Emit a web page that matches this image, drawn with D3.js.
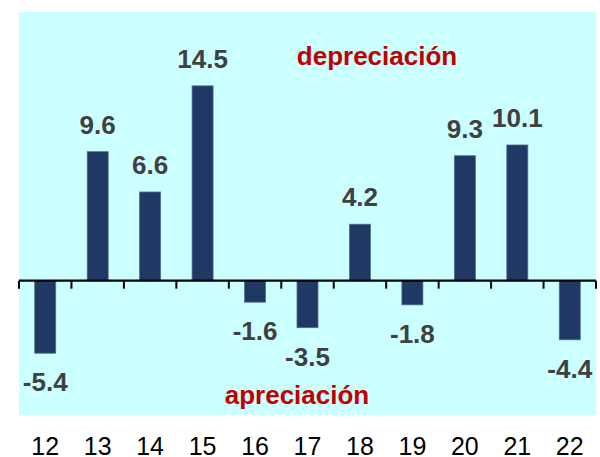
<!DOCTYPE html>
<html>
<head>
<meta charset="utf-8">
<script src="https://cdn.jsdelivr.net/npm/d3@7"></script>
<style>
  body { margin: 0; background: #fff; }
  svg { display: block; font-family: "Liberation Sans", Arial, sans-serif; }
</style>
</head>
<body>
<div class="chart"></div>
<script>
var years = ["12", "13", "14", "15", "16", "17", "18", "19", "20", "21", "22"];
var values = [-5.4, 9.6, 6.6, 14.5, -1.6, -3.5, 4.2, -1.8, 9.3, 10.1, -4.4];
var noteUp = "depreciación";
var noteDown = "apreciación";

var w = 600, h = 457;
var plotL = 19, plotR = 596, plotT = 12, plotB = 415;

/**
 * Scales
 */
var xScale = d3.scaleBand()
               .domain(years)
               .range([plotL, plotR])
               .paddingInner(0.6)
               .paddingOuter(0.3);

var yScale = d3.scaleLinear()
               .domain([-10, 20])
               .range([plotB, plotT]);

var svg = d3.select(".chart")
            .append("svg")
            .attr("width", w)
            .attr("height", h);

// plot background
svg.append("rect")
   .attr("x", plotL)
   .attr("y", plotT)
   .attr("width", plotR - plotL)
   .attr("height", plotB - plotT)
   .attr("fill", "#ccffff");

/**
 * Bars
 */
svg.selectAll("rect.bar")
   .data(values)
   .enter()
   .append("rect")
   .attr("class", "bar")
   .attr("x", function(d, i) { return xScale(years[i]); })
   .attr("y", function(d) { return yScale(Math.max(0, d)); })
   .attr("width", xScale.bandwidth())
   .attr("height", function(d) { return Math.abs(yScale(d) - yScale(0)); })
   .attr("fill", "#1f3864")
   .attr("stroke", "#4f6b94")
   .attr("stroke-width", 0.8);

/**
 * Zero line and ticks between categories
 */
var zero = yScale(0);
var step = xScale.step();
var bounds = years.map(function(d) {
  return xScale(d) - step * xScale.paddingInner() / 2;
});
bounds.push(plotR);

svg.append("line")
   .attr("x1", plotL)
   .attr("x2", plotR)
   .attr("y1", zero)
   .attr("y2", zero)
   .attr("stroke", "#000")
   .attr("stroke-width", 2.2);

svg.selectAll("line.tick")
   .data(bounds)
   .enter()
   .append("line")
   .attr("class", "tick")
   .attr("x1", function(d) { return d; })
   .attr("x2", function(d) { return d; })
   .attr("y1", zero)
   .attr("y2", zero + 8)
   .attr("stroke", "#000")
   .attr("stroke-width", 2);

/**
 * Value labels
 */
svg.selectAll("text.val")
   .data(values)
   .enter()
   .append("text")
   .attr("class", "val")
   .attr("x", function(d, i) { return xScale(years[i]) + xScale.bandwidth() / 2; })
   .attr("y", function(d) {
     return d >= 0 ? yScale(d) - 18 : yScale(d) + 38;
   })
   .attr("text-anchor", "middle")
   .attr("font-size", 26)
   .attr("font-weight", "bold")
   .attr("fill", "#404040")
   .text(function(d) { return d.toFixed(1); });

/**
 * Category labels
 */
svg.selectAll("text.cat")
   .data(years)
   .enter()
   .append("text")
   .attr("class", "cat")
   .attr("x", function(d) { return xScale(d) + xScale.bandwidth() / 2; })
   .attr("y", 455)
   .attr("text-anchor", "middle")
   .attr("font-size", 25)
   .attr("fill", "#000")
   .text(function(d) { return d; });

// notes
svg.append("text")
   .attr("x", 377)
   .attr("y", 65)
   .attr("text-anchor", "middle")
   .attr("font-size", 26)
   .attr("font-weight", "bold")
   .attr("fill", "#c00000")
   .text(noteUp);

svg.append("text")
   .attr("x", 297)
   .attr("y", 404)
   .attr("text-anchor", "middle")
   .attr("font-size", 26)
   .attr("font-weight", "bold")
   .attr("fill", "#c00000")
   .text(noteDown);
</script>
</body>
</html>
